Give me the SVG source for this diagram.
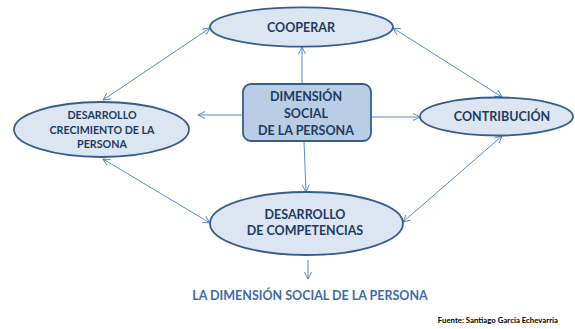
<svg xmlns="http://www.w3.org/2000/svg" width="575" height="329" viewBox="0 0 575 329">
<style>
.node ellipse{fill:#dce6f2;stroke:#385d8a;stroke-width:1.8}
.node rect{fill:#b9cde5;stroke:#385d8a;stroke-width:1.8}
.lbl{font-family:Lato,"Liberation Sans",sans-serif;font-weight:bold;fill:#1f3a60;text-anchor:middle}
.conn line{stroke:#4a7ebb;stroke-width:0.9;fill:none}
.bi{marker-start:url(#ah);marker-end:url(#ah)}
.one{marker-end:url(#ah)}
</style>
<defs>
<marker id="ah" viewBox="0 0 8 8" refX="7.5" refY="4" markerWidth="8" markerHeight="8" markerUnits="userSpaceOnUse" orient="auto-start-reverse">
<path d="M0.5,0.5 L7.5,4 L0.5,7.5" fill="none" stroke="#4a7ebb" stroke-width="0.9"/>
</marker>
</defs>
<rect width="575" height="329" fill="#ffffff"/>
<g id="connectors" class="conn">
<line class="bi" x1="210" y1="28" x2="103" y2="100"/>
<line class="bi" x1="393" y1="28" x2="502" y2="97"/>
<line class="bi" x1="103" y1="159" x2="210" y2="223"/>
<line class="bi" x1="502" y1="136" x2="403" y2="222"/>
<line class="one" x1="302" y1="84" x2="302" y2="47"/>
<line class="one" x1="243" y1="115" x2="198" y2="115"/>
<line class="one" x1="371" y1="117" x2="420" y2="117"/>
<line class="one" x1="304" y1="141" x2="306" y2="192"/>
<line class="one" x1="308" y1="260" x2="308" y2="279"/>
</g>
<g id="cooperar" class="node">
<ellipse cx="301.5" cy="27" rx="91.5" ry="19.7"/>
<text class="lbl" x="301" y="32" font-size="12.5">COOPERAR</text>
</g>
<g id="contribucion" class="node">
<ellipse cx="496.5" cy="116.5" rx="76.5" ry="19"/>
<text class="lbl" x="502" y="121" font-size="12.5">CONTRIBUCIÓN</text>
</g>
<g id="crecimiento" class="node">
<ellipse cx="101.5" cy="129.5" rx="87.5" ry="27.5"/>
<text class="lbl" font-size="10.7"><tspan x="102" y="119">DESARROLLO</tspan><tspan x="102" y="133.5">CRECIMIENTO DE LA</tspan><tspan x="102" y="148">PERSONA</tspan></text>
</g>
<g id="dimension" class="node">
<rect x="243" y="84" width="128" height="57" rx="8"/>
<text class="lbl" font-size="12.5"><tspan x="306" y="101">DIMENSIÓN</tspan><tspan x="306" y="118">SOCIAL</tspan><tspan x="306" y="135">DE LA PERSONA</tspan></text>
</g>
<g id="competencias" class="node">
<ellipse cx="306.5" cy="223.5" rx="96.5" ry="31.5"/>
<text class="lbl" font-size="12.5"><tspan x="305" y="219">DESARROLLO</tspan><tspan x="305" y="235">DE COMPETENCIAS</tspan></text>
</g>
<g id="title">
<text x="310" y="300" font-family="Lato,'Liberation Sans',sans-serif" font-weight="bold" font-size="12.5" fill="#3e6ba6" text-anchor="middle">LA DIMENSIÓN SOCIAL DE LA PERSONA</text>
</g>
<g id="source">
<text x="558" y="323" font-family="Lato,'Liberation Sans',sans-serif" font-weight="bold" font-size="7.8" fill="#000000" text-anchor="end">Fuente: Santiago Garcia Echevarria</text>
</g>
</svg>
